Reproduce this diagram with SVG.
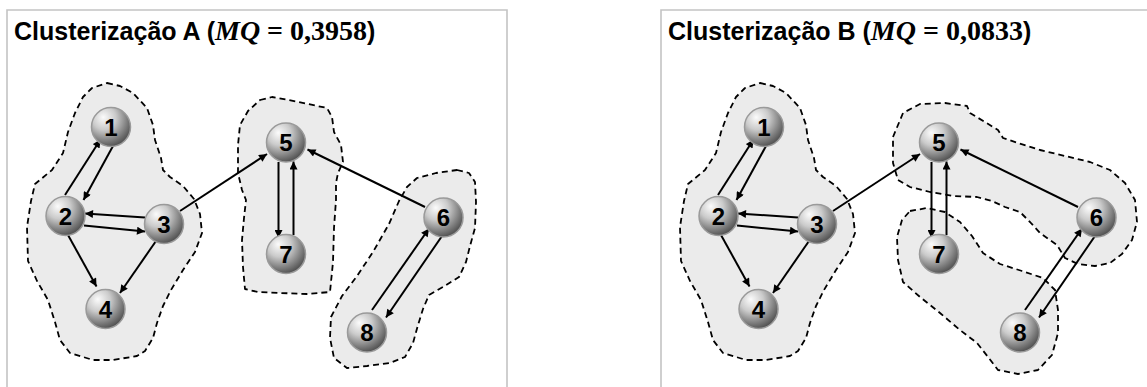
<svg xmlns="http://www.w3.org/2000/svg" width="1147" height="387" viewBox="0 0 1147 387">
<style>
.frame{fill:none;stroke:#c4c4c4;stroke-width:1.6}
.blob{fill:#ebebeb;stroke:#000;stroke-width:1.8;stroke-dasharray:6 4;stroke-linejoin:round}
.edge{stroke:#000;stroke-width:2;fill:none;marker-end:url(#arr)}
.ball{fill:url(#sph);stroke:#9a9a9a;stroke-width:1.5}
.lbl{font-family:"Liberation Sans",Arial,sans-serif;font-weight:bold;font-size:24px;fill:#000;text-anchor:middle}
.ttl{font-family:"Liberation Sans",Arial,sans-serif;font-weight:bold;font-size:25px;fill:#000}
.mq{font-family:"Liberation Serif","Times New Roman",serif;font-weight:bold;font-size:28px}
</style>
<defs>
<radialGradient id="sph" cx="0.36" cy="0.3" r="0.75" fx="0.3" fy="0.25">
<stop offset="0" stop-color="#fbfbfb"/>
<stop offset="0.4" stop-color="#cbcbcb"/>
<stop offset="1" stop-color="#4a4a4a"/>
</radialGradient>
<marker id="arr" viewBox="0 0 10 10" refX="10" refY="5" markerWidth="10" markerHeight="8" markerUnits="userSpaceOnUse" orient="auto">
<path d="M0,0 L10,5 L0,10 z" fill="#000"/>
</marker>
</defs>

<g id="frames">
<path class="frame" d="M7,387 V10 H507 V387"/>
<path class="frame" d="M661,387 V10 H1147"/>
</g>

<g id="titles">
<text class="ttl" x="14" y="40">Clusterização A (<tspan class="mq" font-style="italic">MQ</tspan><tspan class="mq"> = 0,3958</tspan>)</text>
<text class="ttl" x="668" y="40">Clusterização B (<tspan class="mq" font-style="italic">MQ</tspan><tspan class="mq"> = 0,0833</tspan>)</text>
</g>

<g id="clusters">
<polygon id="clusterA1" class="blob" points="107,83 120,86 133,93 147,108 153,125 155,140 161,158 163,170 170,177 183,186 194,199 200,214 202,233 195,252 183,270 171,290 163,306 157,323 153,338 145,351 137,356 113,360 93,360 70,353 60,340 55,322 48,300 37,281 28,261 27,227 31,201 35,184 52,170 63,153 68,132 75,113 83,97 92,88"/>
<polygon id="clusterA2" class="blob" points="260,100 272,97 289,100 308,104 327,108 332,117 334,132 341,145 343,162 338,173 336,183 336,200 334,228 333,262 330,292 307,294 280,293 258,292 245,289 243,267 242,240 244,218 246,200 242,190 238,173 238,145 240,125 248,111"/>
<polygon id="clusterA3" class="blob" points="457,170 469,173 475,182 476,202 475,228 470,246 466,262 459,277 443,287 429,295 423,309 418,325 413,343 405,357 390,363 367,366 347,368 334,358 330,338 331,317 342,296 357,276 373,252 389,224 399,201 407,187 417,178 436,173"/>
<polygon id="clusterB1" class="blob" transform="translate(653,0)" points="107,83 120,86 133,93 147,108 153,125 155,140 161,158 163,170 170,177 183,186 194,199 200,214 202,233 195,252 183,270 171,290 163,306 157,323 153,338 145,351 137,356 113,360 93,360 70,353 60,340 55,322 48,300 37,281 28,261 27,227 31,201 35,184 52,170 63,153 68,132 75,113 83,97 92,88"/>
<polygon id="clusterB2" class="blob" points="893,137 903,113 920,104 945,103 967,106 970,113 985,122 998,130 1003,138 1018,143 1040,150 1065,156 1090,162 1110,170 1125,183 1135,200 1137,222 1132,240 1122,254 1110,263 1095,266 1078,264 1065,258 1057,245 1040,233 1030,222 1020,212 1005,207 992,201 977,197 953,196 930,192 910,187 898,180 893,163"/>
<polygon id="clusterB3" class="blob" points="910,211 927,208 945,212 960,222 972,236 983,253 1000,264 1022,271 1043,278 1055,290 1058,310 1058,333 1052,355 1038,370 1018,374 998,370 988,357 977,343 960,330 940,313 920,297 903,282 898,260 897,237 902,220"/>
</g>

<g id="connectors">
<g id="edgesA">
<line class="edge" x1="65" y1="195" x2="100.5" y2="139.5"/>
<line class="edge" x1="113" y1="146" x2="83.5" y2="200"/>
<line class="edge" x1="145" y1="217.5" x2="85" y2="213.5"/>
<line class="edge" x1="84" y1="225.5" x2="145" y2="231.5"/>
<line class="edge" x1="68" y1="235" x2="96.5" y2="286.5"/>
<line class="edge" x1="156" y1="241" x2="120" y2="293"/>
<line class="edge" x1="180" y1="211" x2="267" y2="154"/>
<line class="edge" x1="278.5" y1="162" x2="278.5" y2="238"/>
<line class="edge" x1="293.5" y1="235" x2="293.5" y2="161.5"/>
<line class="edge" x1="425" y1="207" x2="307.5" y2="149.5"/>
<line class="edge" x1="372" y1="310" x2="429" y2="228.5"/>
<line class="edge" x1="442" y1="236" x2="386" y2="317.5"/>
</g>
<g id="edgesB" transform="translate(653,0)">
<line class="edge" x1="65" y1="195" x2="100.5" y2="139.5"/>
<line class="edge" x1="113" y1="146" x2="83.5" y2="200"/>
<line class="edge" x1="145" y1="217.5" x2="85" y2="213.5"/>
<line class="edge" x1="84" y1="225.5" x2="145" y2="231.5"/>
<line class="edge" x1="68" y1="235" x2="96.5" y2="286.5"/>
<line class="edge" x1="156" y1="241" x2="120" y2="293"/>
<line class="edge" x1="180" y1="211" x2="267" y2="154"/>
<line class="edge" x1="278.5" y1="162" x2="278.5" y2="238"/>
<line class="edge" x1="293.5" y1="235" x2="293.5" y2="161.5"/>
<line class="edge" x1="425" y1="207" x2="307.5" y2="149.5"/>
<line class="edge" x1="372" y1="310" x2="429" y2="228.5"/>
<line class="edge" x1="442" y1="236" x2="386" y2="317.5"/>
</g>
</g>

<g id="nodesA">
<g id="a1" transform="translate(111,127)"><circle class="ball" r="19.5"/><text class="lbl" y="8.5">1</text></g>
<g id="a2" transform="translate(65.5,216)"><circle class="ball" r="19.5"/><text class="lbl" y="8.5">2</text></g>
<g id="a3" transform="translate(164,224)"><circle class="ball" r="19.5"/><text class="lbl" y="8.5">3</text></g>
<g id="a4" transform="translate(105.5,309)"><circle class="ball" r="19.5"/><text class="lbl" y="8.5">4</text></g>
<g id="a5" transform="translate(286,142.5)"><circle class="ball" r="19.5"/><text class="lbl" y="8.5">5</text></g>
<g id="a6" transform="translate(443.5,217.5)"><circle class="ball" r="19.5"/><text class="lbl" y="8.5">6</text></g>
<g id="a7" transform="translate(286,254)"><circle class="ball" r="19.5"/><text class="lbl" y="8.5">7</text></g>
<g id="a8" transform="translate(367,332.5)"><circle class="ball" r="19.5"/><text class="lbl" y="8.5">8</text></g>
</g>
<g id="nodesB">
<g id="b1" transform="translate(764,127)"><circle class="ball" r="19.5"/><text class="lbl" y="8.5">1</text></g>
<g id="b2" transform="translate(718.5,216)"><circle class="ball" r="19.5"/><text class="lbl" y="8.5">2</text></g>
<g id="b3" transform="translate(817,224)"><circle class="ball" r="19.5"/><text class="lbl" y="8.5">3</text></g>
<g id="b4" transform="translate(758.5,309)"><circle class="ball" r="19.5"/><text class="lbl" y="8.5">4</text></g>
<g id="b5" transform="translate(939,142.5)"><circle class="ball" r="19.5"/><text class="lbl" y="8.5">5</text></g>
<g id="b6" transform="translate(1096.5,217.5)"><circle class="ball" r="19.5"/><text class="lbl" y="8.5">6</text></g>
<g id="b7" transform="translate(939,254)"><circle class="ball" r="19.5"/><text class="lbl" y="8.5">7</text></g>
<g id="b8" transform="translate(1020,332.5)"><circle class="ball" r="19.5"/><text class="lbl" y="8.5">8</text></g>
</g>
</svg>
